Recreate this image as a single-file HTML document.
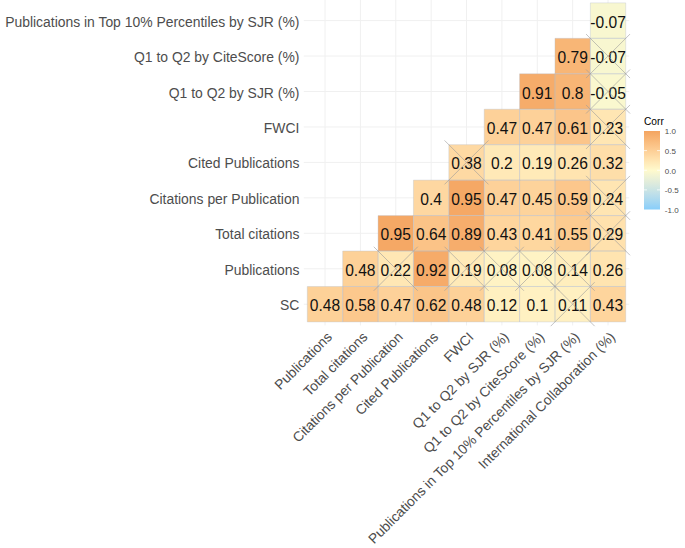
<!DOCTYPE html><html><head><meta charset="utf-8"><style>html,body{margin:0;padding:0;background:#fff;}svg{display:block;}text{font-family:"Liberation Sans",sans-serif;}</style></head><body>
<svg width="685" height="548" viewBox="0 0 685 548">
<rect width="685" height="548" fill="#fff"/>
<path d="M325.00 -0.67V325.47M360.38 -0.67V325.47M395.76 -0.67V325.47M431.14 -0.67V325.47M466.52 -0.67V325.47M501.90 -0.67V325.47M537.28 -0.67V325.47M572.66 -0.67V325.47M608.04 -0.67V325.47M303.77 20.60H629.27M303.77 56.05H629.27M303.77 91.50H629.27M303.77 126.95H629.27M303.77 162.40H629.27M303.77 197.85H629.27M303.77 233.30H629.27M303.77 268.75H629.27M303.77 304.20H629.27" stroke="#F0F0F0" stroke-width="1.0" fill="none"/>
<rect x="590.35" y="2.88" width="35.38" height="35.45" fill="#f8f7d0"/><rect x="554.97" y="38.33" width="35.38" height="35.45" fill="#f8b676"/><rect x="590.35" y="38.33" width="35.38" height="35.45" fill="#f8f7d0"/><rect x="519.59" y="73.78" width="35.38" height="35.45" fill="#f6ac6a"/><rect x="554.97" y="73.78" width="35.38" height="35.45" fill="#f8b575"/><rect x="590.35" y="73.78" width="35.38" height="35.45" fill="#faf8cf"/><rect x="484.21" y="109.23" width="35.38" height="35.45" fill="#fdd199"/><rect x="519.59" y="109.23" width="35.38" height="35.45" fill="#fdd199"/><rect x="554.97" y="109.23" width="35.38" height="35.45" fill="#fbc58a"/><rect x="590.35" y="109.23" width="35.38" height="35.45" fill="#ffe6b3"/><rect x="448.83" y="144.68" width="35.38" height="35.45" fill="#fed9a3"/><rect x="484.21" y="144.68" width="35.38" height="35.45" fill="#ffe9b7"/><rect x="519.59" y="144.68" width="35.38" height="35.45" fill="#ffeab8"/><rect x="554.97" y="144.68" width="35.38" height="35.45" fill="#ffe4b0"/><rect x="590.35" y="144.68" width="35.38" height="35.45" fill="#fedea9"/><rect x="413.45" y="180.12" width="35.38" height="35.45" fill="#fed7a1"/><rect x="448.83" y="180.12" width="35.38" height="35.45" fill="#f5a865"/><rect x="484.21" y="180.12" width="35.38" height="35.45" fill="#fdd199"/><rect x="519.59" y="180.12" width="35.38" height="35.45" fill="#fdd39b"/><rect x="554.97" y="180.12" width="35.38" height="35.45" fill="#fcc78c"/><rect x="590.35" y="180.12" width="35.38" height="35.45" fill="#ffe5b2"/><rect x="378.07" y="215.58" width="35.38" height="35.45" fill="#f5a865"/><rect x="413.45" y="215.58" width="35.38" height="35.45" fill="#fbc387"/><rect x="448.83" y="215.58" width="35.38" height="35.45" fill="#f6ad6c"/><rect x="484.21" y="215.58" width="35.38" height="35.45" fill="#fed59d"/><rect x="519.59" y="215.58" width="35.38" height="35.45" fill="#fed79f"/><rect x="554.97" y="215.58" width="35.38" height="35.45" fill="#fccb90"/><rect x="590.35" y="215.58" width="35.38" height="35.45" fill="#ffe1ad"/><rect x="342.69" y="251.03" width="35.38" height="35.45" fill="#fdd198"/><rect x="378.07" y="251.03" width="35.38" height="35.45" fill="#ffe7b4"/><rect x="413.45" y="251.03" width="35.38" height="35.45" fill="#f6ab69"/><rect x="448.83" y="251.03" width="35.38" height="35.45" fill="#ffeab8"/><rect x="484.21" y="251.03" width="35.38" height="35.45" fill="#fff3c4"/><rect x="519.59" y="251.03" width="35.38" height="35.45" fill="#fff3c4"/><rect x="554.97" y="251.03" width="35.38" height="35.45" fill="#ffeebd"/><rect x="590.35" y="251.03" width="35.38" height="35.45" fill="#ffe4b0"/><rect x="307.31" y="286.48" width="35.38" height="35.45" fill="#fdd198"/><rect x="342.69" y="286.48" width="35.38" height="35.45" fill="#fcc88d"/><rect x="378.07" y="286.48" width="35.38" height="35.45" fill="#fdd199"/><rect x="413.45" y="286.48" width="35.38" height="35.45" fill="#fbc589"/><rect x="448.83" y="286.48" width="35.38" height="35.45" fill="#fdd198"/><rect x="484.21" y="286.48" width="35.38" height="35.45" fill="#fff0c0"/><rect x="519.59" y="286.48" width="35.38" height="35.45" fill="#fff1c2"/><rect x="554.97" y="286.48" width="35.38" height="35.45" fill="#fff0c1"/><rect x="590.35" y="286.48" width="35.38" height="35.45" fill="#fed59d"/>
<path d="M590.35 2.88h35.38v35.45h-35.38ZM554.97 38.33h35.38v35.45h-35.38ZM590.35 38.33h35.38v35.45h-35.38ZM519.59 73.78h35.38v35.45h-35.38ZM554.97 73.78h35.38v35.45h-35.38ZM590.35 73.78h35.38v35.45h-35.38ZM484.21 109.23h35.38v35.45h-35.38ZM519.59 109.23h35.38v35.45h-35.38ZM554.97 109.23h35.38v35.45h-35.38ZM590.35 109.23h35.38v35.45h-35.38ZM448.83 144.68h35.38v35.45h-35.38ZM484.21 144.68h35.38v35.45h-35.38ZM519.59 144.68h35.38v35.45h-35.38ZM554.97 144.68h35.38v35.45h-35.38ZM590.35 144.68h35.38v35.45h-35.38ZM413.45 180.12h35.38v35.45h-35.38ZM448.83 180.12h35.38v35.45h-35.38ZM484.21 180.12h35.38v35.45h-35.38ZM519.59 180.12h35.38v35.45h-35.38ZM554.97 180.12h35.38v35.45h-35.38ZM590.35 180.12h35.38v35.45h-35.38ZM378.07 215.58h35.38v35.45h-35.38ZM413.45 215.58h35.38v35.45h-35.38ZM448.83 215.58h35.38v35.45h-35.38ZM484.21 215.58h35.38v35.45h-35.38ZM519.59 215.58h35.38v35.45h-35.38ZM554.97 215.58h35.38v35.45h-35.38ZM590.35 215.58h35.38v35.45h-35.38ZM342.69 251.03h35.38v35.45h-35.38ZM378.07 251.03h35.38v35.45h-35.38ZM413.45 251.03h35.38v35.45h-35.38ZM448.83 251.03h35.38v35.45h-35.38ZM484.21 251.03h35.38v35.45h-35.38ZM519.59 251.03h35.38v35.45h-35.38ZM554.97 251.03h35.38v35.45h-35.38ZM590.35 251.03h35.38v35.45h-35.38ZM307.31 286.48h35.38v35.45h-35.38ZM342.69 286.48h35.38v35.45h-35.38ZM378.07 286.48h35.38v35.45h-35.38ZM413.45 286.48h35.38v35.45h-35.38ZM448.83 286.48h35.38v35.45h-35.38ZM484.21 286.48h35.38v35.45h-35.38ZM519.59 286.48h35.38v35.45h-35.38ZM554.97 286.48h35.38v35.45h-35.38ZM590.35 286.48h35.38v35.45h-35.38Z" stroke="#B4BCCC" stroke-width="0.5" stroke-opacity="0.7" fill="none"/>
<g font-size="15.6" fill="#111111" text-anchor="middle"><text x="608.04" y="27.60">-0.07</text><text x="572.66" y="63.05">0.79</text><text x="608.04" y="63.05">-0.07</text><text x="537.28" y="98.50">0.91</text><text x="572.66" y="98.50">0.8</text><text x="608.04" y="98.50">-0.05</text><text x="501.90" y="133.95">0.47</text><text x="537.28" y="133.95">0.47</text><text x="572.66" y="133.95">0.61</text><text x="608.04" y="133.95">0.23</text><text x="466.52" y="169.40">0.38</text><text x="501.90" y="169.40">0.2</text><text x="537.28" y="169.40">0.19</text><text x="572.66" y="169.40">0.26</text><text x="608.04" y="169.40">0.32</text><text x="431.14" y="204.85">0.4</text><text x="466.52" y="204.85">0.95</text><text x="501.90" y="204.85">0.47</text><text x="537.28" y="204.85">0.45</text><text x="572.66" y="204.85">0.59</text><text x="608.04" y="204.85">0.24</text><text x="395.76" y="240.30">0.95</text><text x="431.14" y="240.30">0.64</text><text x="466.52" y="240.30">0.89</text><text x="501.90" y="240.30">0.43</text><text x="537.28" y="240.30">0.41</text><text x="572.66" y="240.30">0.55</text><text x="608.04" y="240.30">0.29</text><text x="360.38" y="275.75">0.48</text><text x="395.76" y="275.75">0.22</text><text x="431.14" y="275.75">0.92</text><text x="466.52" y="275.75">0.19</text><text x="501.90" y="275.75">0.08</text><text x="537.28" y="275.75">0.08</text><text x="572.66" y="275.75">0.14</text><text x="608.04" y="275.75">0.26</text><text x="325.00" y="311.20">0.48</text><text x="360.38" y="311.20">0.58</text><text x="395.76" y="311.20">0.47</text><text x="431.14" y="311.20">0.62</text><text x="466.52" y="311.20">0.48</text><text x="501.90" y="311.20">0.12</text><text x="537.28" y="311.20">0.1</text><text x="572.66" y="311.20">0.11</text><text x="608.04" y="311.20">0.43</text></g>
<path d="M586.04 34.05L630.04 78.05M586.04 78.05L630.04 34.05M586.04 69.50L630.04 113.50M586.04 113.50L630.04 69.50M586.04 104.95L630.04 148.95M586.04 148.95L630.04 104.95M444.52 140.40L488.52 184.40M444.52 184.40L488.52 140.40M586.04 175.85L630.04 219.85M586.04 219.85L630.04 175.85M586.04 211.30L630.04 255.30M586.04 255.30L630.04 211.30M373.76 246.75L417.76 290.75M373.76 290.75L417.76 246.75M444.52 246.75L488.52 290.75M444.52 290.75L488.52 246.75M479.90 246.75L523.90 290.75M479.90 290.75L523.90 246.75M515.28 246.75L559.28 290.75M515.28 290.75L559.28 246.75M550.66 246.75L594.66 290.75M550.66 290.75L594.66 246.75M550.66 282.20L594.66 326.20M550.66 326.20L594.66 282.20" stroke="#9A9A9A" stroke-width="0.6" fill="none"/>
<g font-size="13.92" fill="#4D4D4D" text-anchor="end"><text x="299.40" y="26.60">Publications in Top 10&#37; Percentiles by SJR (&#37;)</text><text x="299.40" y="62.05">Q1 to Q2 by CiteScore (&#37;)</text><text x="299.40" y="97.50">Q1 to Q2 by SJR (&#37;)</text><text x="299.40" y="132.95">FWCI</text><text x="299.40" y="168.40">Cited Publications</text><text x="299.40" y="203.85">Citations per Publication</text><text x="299.40" y="239.30">Total citations</text><text x="299.40" y="274.75">Publications</text><text x="299.40" y="310.20">SC</text></g>
<g font-size="13.82" fill="#4D4D4D" text-anchor="end"><text transform="translate(325.00 330.00) rotate(-45)" y="11.20">Publications</text><text transform="translate(360.38 330.00) rotate(-45)" y="11.20">Total citations</text><text transform="translate(395.76 330.00) rotate(-45)" y="11.20">Citations per Publication</text><text transform="translate(431.14 330.00) rotate(-45)" y="11.20">Cited Publications</text><text transform="translate(466.52 330.00) rotate(-45)" y="11.20">FWCI</text><text transform="translate(501.90 330.00) rotate(-45)" y="11.20">Q1 to Q2 by SJR (%)</text><text transform="translate(537.28 330.00) rotate(-45)" y="11.20">Q1 to Q2 by CiteScore (%)</text><text transform="translate(572.66 330.00) rotate(-45)" y="11.20">Publications in Top 10% Percentiles by SJR (%)</text><text transform="translate(608.04 330.00) rotate(-45)" y="11.20">International Collaboration (%)</text></g>
<defs><linearGradient id="lg" x1="0" y1="1" x2="0" y2="0">
<stop offset="0.000" stop-color="#87cefa"/>
<stop offset="0.050" stop-color="#97d2f6"/>
<stop offset="0.100" stop-color="#a5d7f1"/>
<stop offset="0.150" stop-color="#b2dbed"/>
<stop offset="0.200" stop-color="#bfdfe9"/>
<stop offset="0.250" stop-color="#cae4e4"/>
<stop offset="0.300" stop-color="#d6e8e0"/>
<stop offset="0.350" stop-color="#e1ecdb"/>
<stop offset="0.400" stop-color="#ebf1d7"/>
<stop offset="0.450" stop-color="#f5f5d2"/>
<stop offset="0.500" stop-color="#fffacd"/>
<stop offset="0.550" stop-color="#fff1c2"/>
<stop offset="0.600" stop-color="#ffe9b7"/>
<stop offset="0.650" stop-color="#ffe0ac"/>
<stop offset="0.700" stop-color="#fed7a1"/>
<stop offset="0.750" stop-color="#fdcf96"/>
<stop offset="0.800" stop-color="#fcc68b"/>
<stop offset="0.850" stop-color="#fabe80"/>
<stop offset="0.900" stop-color="#f8b575"/>
<stop offset="0.950" stop-color="#f6ad6b"/>
<stop offset="1.000" stop-color="#f4a460"/>
</linearGradient></defs>
<rect x="644" y="131" width="16" height="78.50" fill="url(#lg)"/>
<path d="M644 189.88h3M660 189.88h-3M644 170.25h3M660 170.25h-3M644 150.62h3M660 150.62h-3" stroke="#fff" stroke-opacity="0.75" stroke-width="1" fill="none"/>
<text x="644" y="124.6" font-size="10.2" fill="#000">Corr</text>
<g font-size="8.0" fill="#4D4D4D"><text x="664.8" y="134.30">1.0</text><text x="664.8" y="153.93">0.5</text><text x="664.8" y="173.55">0.0</text><text x="664.8" y="193.18">-0.5</text><text x="664.8" y="212.80">-1.0</text></g>
</svg></body></html>
